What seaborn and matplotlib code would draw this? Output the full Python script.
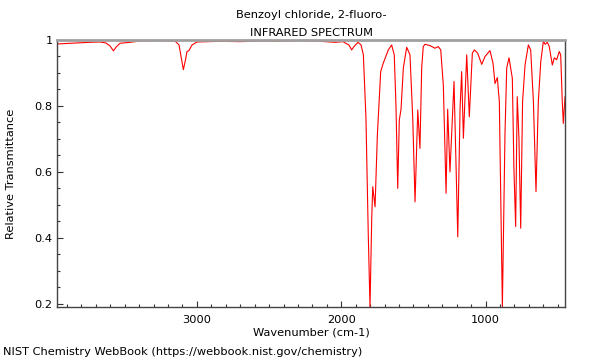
import matplotlib
matplotlib.use("Agg")
import matplotlib.pyplot as plt
from matplotlib.ticker import MultipleLocator, FuncFormatter
import seaborn as sns
import pandas as pd

wavenumber = [3966, 3879, 3741, 3672, 3630, 3602, 3578, 3561, 3533, 3464, 3394, 3256,
              3152, 3124, 3110, 3094, 3079, 3069, 3055, 3034, 2999, 2840, 2702, 2563,
              2425, 2286, 2147, 2044, 1988, 1961, 1947, 1928, 1912, 1884, 1863, 1847,
              1829, 1813, 1801, 1789, 1782, 1766, 1750, 1727, 1709, 1674, 1651, 1633,
              1621, 1609, 1598, 1586, 1570, 1547, 1524, 1505, 1489, 1470, 1455, 1443,
              1432, 1420, 1385, 1351, 1328, 1311, 1293, 1274, 1263, 1247, 1219, 1193,
              1177, 1166, 1154, 1131, 1113, 1092, 1078, 1055, 1027, 1004, 970, 949,
              935, 919, 905, 884, 866, 854, 838, 815, 804, 792, 781, 769, 757, 744,
              727, 704, 688, 669, 651, 635, 618, 600, 588, 573, 559, 538, 524, 508,
              490, 480, 469, 462, 450]
transmittance = [0.988, 0.990, 0.993, 0.994, 0.991, 0.982, 0.967, 0.978, 0.990, 0.993, 0.997, 0.998,
                 0.997, 0.985, 0.950, 0.910, 0.940, 0.965, 0.968, 0.985, 0.994, 0.996, 0.995, 0.997,
                 0.996, 0.998, 0.996, 0.993, 0.995, 0.988, 0.985, 0.970, 0.980, 0.993, 0.985, 0.955,
                 0.763, 0.410, 0.190, 0.460, 0.555, 0.494, 0.712, 0.904, 0.930, 0.970, 0.985, 0.955,
                 0.800, 0.550, 0.757, 0.790, 0.915, 0.978, 0.955, 0.763, 0.509, 0.788, 0.671, 0.915,
                 0.980, 0.987, 0.983, 0.975, 0.980, 0.970, 0.863, 0.535, 0.790, 0.600, 0.874, 0.403,
                 0.793, 0.904, 0.702, 0.955, 0.767, 0.960, 0.970, 0.960, 0.926, 0.950, 0.968, 0.930,
                 0.868, 0.886, 0.813, 0.190, 0.712, 0.915, 0.946, 0.884, 0.610, 0.434, 0.828, 0.700,
                 0.429, 0.813, 0.924, 0.985, 0.970, 0.813, 0.540, 0.813, 0.934, 0.997, 0.987, 0.993,
                 0.980, 0.924, 0.946, 0.940, 0.965, 0.955, 0.813, 0.747, 0.828]

df = pd.DataFrame({"Wavenumber": wavenumber, "T": transmittance})

sns.set_style("ticks")
plt.rcParams['font.family'] = ['DejaVu Sans']
plt.rcParams['text.color'] = 'black'
plt.rcParams['axes.labelcolor'] = 'black'

fs = 8.2
fig = plt.figure(figsize=(6, 3.6), dpi=100)
ax = fig.add_axes([0.0958, 0.1472, 0.8459, 0.7417])
sns.lineplot(data=df, x="Wavenumber", y="T", ax=ax, color="#ff0000",
             linewidth=0.8, sort=False, estimator=None)

ax.set_xlim(3966, 450)
ax.set_ylim(0.19, 1.0)
ax.xaxis.set_major_locator(MultipleLocator(1000))
ax.xaxis.set_minor_locator(MultipleLocator(100))
ax.yaxis.set_major_locator(MultipleLocator(0.2))
ax.yaxis.set_minor_locator(MultipleLocator(0.05))
ax.yaxis.set_major_formatter(FuncFormatter(lambda v, p: "%g" % round(v, 3)))
ax.tick_params(which="both", direction="in", colors="#333333", labelsize=fs,
               labelcolor="black")
ax.tick_params(which="major", length=4.5, width=0.8)
ax.tick_params(which="minor", length=2.5, width=0.8)
ax.tick_params(axis="x", pad=6)

for side in ["left", "bottom", "right"]:
    ax.spines[side].set_color("#444444")
    ax.spines[side].set_linewidth(1.0)
    ax.spines[side].set_visible(True)
ax.spines["top"].set_visible(True)
ax.spines["top"].set_color("#a0a0a0")
ax.spines["top"].set_linewidth(2.0)

ax.set_xlabel("Wavenumber (cm-1)", fontsize=fs, labelpad=1.5)
ax.set_ylabel("Relative Transmittance", fontsize=fs, labelpad=13)
ax.set_title("Benzoyl chloride, 2-fluoro-\nINFRARED SPECTRUM", fontsize=fs,
             linespacing=2.0, pad=3, color="black")
fig.text(0.005, 0.022, "NIST Chemistry WebBook (https://webbook.nist.gov/chemistry)",
         fontsize=fs, va="center", ha="left")

fig.savefig("out.png", dpi=100)
